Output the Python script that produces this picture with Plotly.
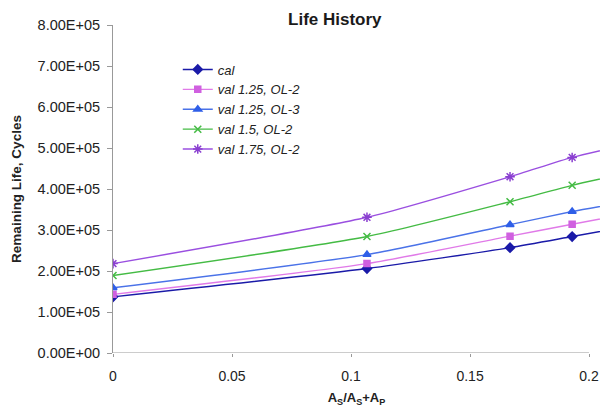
import plotly.graph_objects as go

x_vals = [0, 0.1067, 0.1668, 0.1929, 0.214]
cal = [1.37e5, 2.06e5, 2.57e5, 2.84e5, 3.06e5]
val125_ol2 = [1.43e5, 2.18e5, 2.85e5, 3.14e5, 3.37e5]
val125_ol3 = [1.59e5, 2.40e5, 3.13e5, 3.45e5, 3.67e5]
val15_ol2 = [1.89e5, 2.84e5, 3.69e5, 4.09e5, 4.36e5]
val175_ol2 = [2.18e5, 3.31e5, 4.30e5, 4.77e5, 5.06e5]
y_ticks = [0, 1e5, 2e5, 3e5, 4e5, 5e5, 6e5, 7e5, 8e5]
y_labels = ["0.00E+00", "1.00E+05", "2.00E+05", "3.00E+05", "4.00E+05",
            "5.00E+05", "6.00E+05", "7.00E+05", "8.00E+05"]
x_ticks = [0, 0.05, 0.1, 0.15, 0.2]
x_labels = ["0", "0.05", "0.1", "0.15", "0.2"]

series = [
    ("cal", cal, "#1a1aa8", "#1a1aa8", "diamond", 7),
    ("val 1.25, OL-2", val125_ol2, "#e07ae8", "#d060e0", "square", 6),
    ("val 1.25, OL-3", val125_ol3, "#4a72e8", "#2f5fe8", "triangle-up", 7),
    ("val 1.5, OL-2", val15_ol2, "#44bb44", "#44bb44", "x-thin", 7),
    ("val 1.75, OL-2", val175_ol2, "#9a4fe0", "#8a3fd0", "asterisk", 8),
]

fig = go.Figure()
for name, ys, lc, mc, sym, ms in series:
    fig.add_trace(go.Scatter(
        x=x_vals, y=ys, name="<i>" + name + "</i>", mode="lines+markers",
        line=dict(color=lc, width=1.4, shape="spline", smoothing=0.6),
        marker=dict(symbol=sym, size=ms, color=mc, line=dict(color=mc, width=1.5)),
    ))

fig.add_shape(type="line", x0=0, x1=0.2, y0=0, y1=0, xref="x", yref="y",
              line=dict(color="#999999", width=1))

fig.update_layout(
    width=600, height=413,
    margin=dict(l=113, r=0, t=25, b=60),
    paper_bgcolor="white", plot_bgcolor="white",
    font=dict(family="Liberation Sans, Arial, sans-serif", size=14, color="#222222"),
    title=dict(text="<b>Life History</b>", x=0.558, xanchor="center", y=0.954, yanchor="middle",
               xref="container", yref="container",
               font=dict(size=17, color="#1a1a1a")),
    showlegend=True,
    legend=dict(x=0.133, y=0.91, xanchor="left", yanchor="top", bgcolor="rgba(0,0,0,0)",
                font=dict(size=13, color="#222222"), tracegroupgap=0, itemwidth=30),
    xaxis=dict(range=[0, 0.2046], tickvals=x_ticks, ticktext=x_labels,
               showgrid=False, zeroline=False, showline=False,
               ticks="outside", ticklen=3, tickcolor="#999999", ticklabelstandoff=7,
               tickfont=dict(size=14),
               title=dict(text="<b>A<sub>S</sub>/A<sub>S</sub>+A<sub>P</sub></b>",
                          font=dict(size=13), standoff=10)),
    yaxis=dict(range=[0, 8e5], tickvals=y_ticks, ticktext=y_labels,
               showgrid=False, zeroline=False, showline=True, linecolor="#999999",
               ticks="outside", ticklen=5, tickcolor="#999999", ticklabelstandoff=4,
               tickfont=dict(size=14.5),
               title=dict(text="<b>Remaining Life, Cycles</b>", font=dict(size=13.5), standoff=12)),
)

fig.write_html("out.html")
